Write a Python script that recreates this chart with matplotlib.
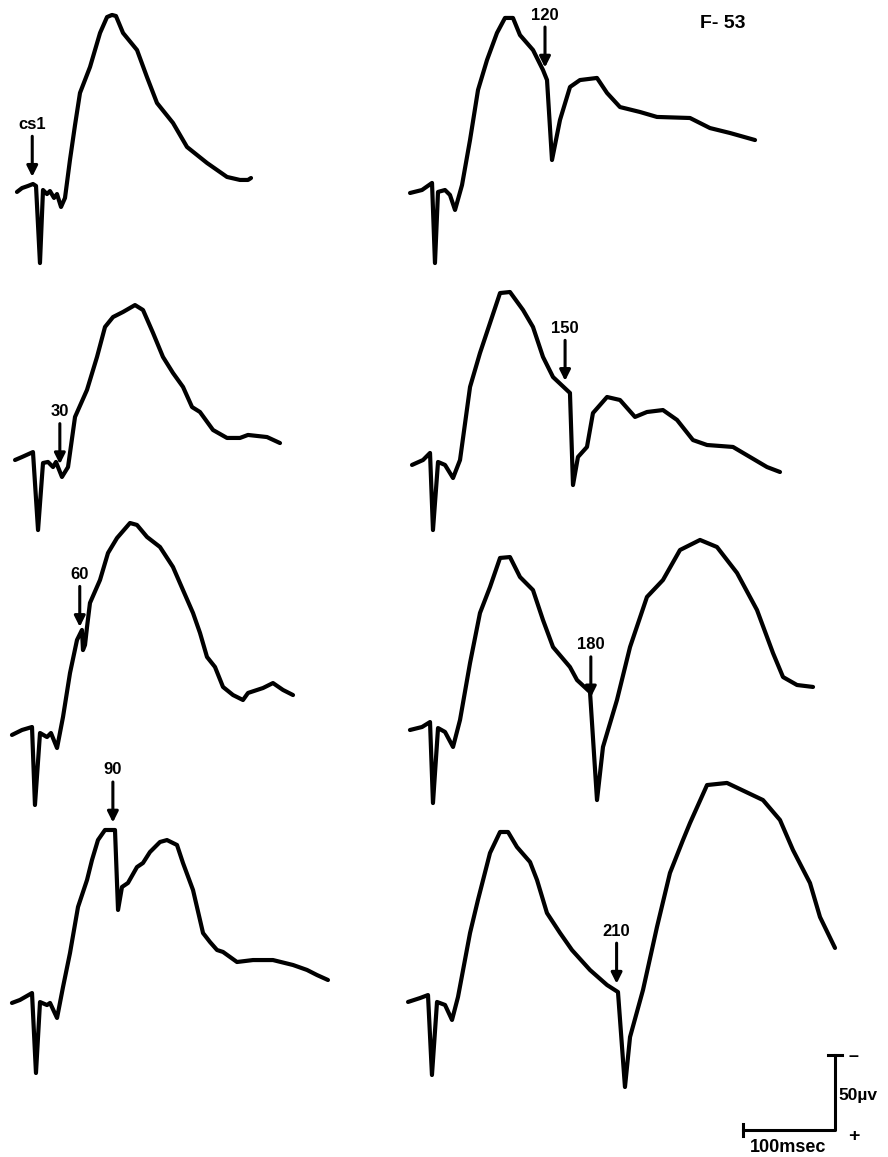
import numpy as np
import matplotlib
matplotlib.use('Agg')
import matplotlib.pyplot as plt

# each trace: time in msec from cs1, amplitude in microvolts (negative is up)
t1 = [-19.6, -14.1, -7.6, -2.2, 1.1, 5.4, 8.7, 13, 16.3, 20.7, 23.9, 28.3, 32.6, 38, 43.5, 48.9, 59.8,
      70.7, 78.3, 83.7, 88, 95.7, 110.9, 121.7, 132.6, 150, 165.2, 187, 208.7, 222.8, 231.5, 234.8]
v1 = [3.3, 0.7, -0.7, -2, -0.7, 50.7, 2, 4.7, 2.7, 7.3, 4.7, 13.3, 7.3, -18, -41.3, -62.7, -80,
      -102.7, -113.3, -114.7, -114, -102.7, -91.3, -73.3, -56, -42.7, -26.7, -16, -6.7, -4.7, -4.7, -6]

t2 = [-21.7, -14.1, -2.2, 3.3, 8.7, 14.1, 19.6, 22.8, 29.3, 35.9, 43.5, 56.5, 67.4, 76.1, 84.8, 95.7,
      108.7, 117.4, 128.3, 139.1, 150, 160.9, 170.7, 179.3, 193.5, 208.7, 222.8, 231.5, 252.2, 266.3]
v2 = [2, 0, -3.3, 48.7, 4, 3.3, 6.7, 3.3, 13.3, 6.7, -26.7, -44.7, -66.7, -86.7, -93.3, -96.7,
      -101.3, -98, -82.7, -66.7, -56, -46.7, -33.3, -30, -18, -12.7, -12.7, -14.7, -13.3, -9.3]

t3 = [-20.7, -9.8, 1.1, 4.3, 9.8, 17.4, 21.7, 28.3, 34.8, 42.4, 50, 55.4, 56.5, 58.7, 60.9, 64.1, 75,
      83.7, 93.5, 107.6, 115.2, 126.1, 140.2, 154.3, 165.2, 176.1, 183.7, 191.3, 200, 208.7, 219.6,
      230.4, 235.9, 252.2, 263, 273.9, 284.8]
v3 = [3.3, 0, -2, 50, 2, 4.7, 2, 12, -8.7, -38, -60, -66.7, -53.3, -56.7, -68.7, -84.7, -100,
      -118, -128, -138, -136.7, -128.7, -122, -108.7, -93.3, -78, -64.7, -48.7, -42, -28.7, -23.3,
      -20, -24.7, -28, -31.3, -26.7, -23.3]

t4 = [-20.7, -12, 1.1, 5.4, 9.8, 17.4, 20.7, 28.3, 34.8, 42.4, 51.1, 60.9, 66.3, 72.8, 80.4, 91.3,
      94.6, 98.9, 105.4, 115.2, 121.7, 129.3, 140.2, 147.8, 158.7, 165.2, 176.1, 187, 194.6, 202.2,
      208.7, 223.9, 241.3, 263, 284.8, 300, 310.9, 322.8]
v4 = [5.3, 3.3, -1.3, 52, 4.7, 6.7, 5.3, 15.3, -5.3, -28, -58.7, -76.7, -90, -103.3, -110, -110,
      -56.7, -72, -74.7, -85.3, -88, -95.3, -102, -103.3, -100, -88, -70, -41.3, -35.3, -30,
      -28.7, -22, -23.3, -23.3, -20, -16.7, -13.3, -10]

t5 = [-21.7, -8.7, 2.2, 5.4, 8.7, 16.3, 21.7, 27.2, 34.8, 43.5, 52.2, 62, 72.8, 81.5, 90.2, 97.8, 112,
      122.8, 127.2, 132.6, 141.3, 152.2, 163, 181.5, 192.4, 206.5, 228.3, 246.7, 282.6, 304.3, 326.1,
      353.3]
v5 = [4, 2, -2.7, 50.7, 3.3, 2, 5.3, 15.3, -1.3, -31.3, -64.7, -84.7, -102.7, -112.7, -112.7, -101.3,
      -91.3, -78, -71.3, -18, -44.7, -66.7, -71.3, -72.7, -62.7, -53.3, -50, -46.7, -46, -39.3, -36,
      -31.3]

t6 = [-17.4, -5.4, 2.2, 5.4, 10.9, 18.5, 27.2, 34.8, 45.7, 56.5, 67.4, 78.3, 89.1, 103.3, 114.1, 125,
      135.9, 154.3, 157.6, 163, 172.8, 179.3, 194.6, 208.7, 225, 238, 255.4, 270.7, 288, 303.3,
      331.5, 350, 368.5, 382.6]
v6 = [3.3, 0, -4.7, 46.7, 1.3, 3.3, 12, 0, -48.7, -71.3, -91.3, -111.3, -112, -100, -88.7, -68.7,
      -55.3, -44.7, 16.7, -2, -8.7, -31.3, -42, -40, -28.7, -32, -33.3, -26.7, -13.3, -10,
      -8.7, -2, 4.7, 8]

t7 = [-19.6, -6.5, 2.2, 5.4, 10.9, 18.5, 27.2, 34.8, 45.7, 56.5, 67.4, 78.3, 89.1, 100, 114.1, 125,
      135.9, 154.3, 162, 176.1, 183.7, 190.2, 205.4, 219.6, 238, 255.4, 273.9, 295.7, 314.1, 335.9,
      357.6, 375, 385.9, 401.1, 418.5]
v7 = [2, 0, -3.3, 50.7, 0.7, 3.3, 13.3, -4.7, -42.7, -76, -93.3, -112.7, -113.3, -100, -91.3, -71.3,
      -53.3, -40, -31.3, -23.3, 48.7, 13.3, -18, -53.3, -86.7, -98, -118, -124.7, -120, -102.7,
      -78, -49.3, -33.3, -28, -26.7]

t8 = [-21.7, -8.7, 0, 4.3, 9.8, 18.5, 26.1, 32.6, 45.7, 54.3, 67.4, 78.3, 87, 96.7, 110.9, 118.5,
      129.3, 143.5, 156.5, 176.1, 194.6, 206.5, 214.1, 219.6, 233.7, 248.9, 263, 277.2, 284.8, 303.3,
      325, 364.1, 382.6, 396.7, 415.2, 426.1, 442.4]
v8 = [1.3, -1.3, -3.3, 50, 1.3, 3.3, 13.3, -2, -44.7, -66.7, -98, -112, -112, -102, -92, -80,
      -58, -44.7, -33.3, -20, -10, -5.3, 58, 24.7, -6.7, -48.7, -84.7, -106.7, -118, -143.3,
      -144.7, -133.3, -120, -100, -78, -55.3, -34.7]

times = [t1, t2, t3, t4, t5, t6, t7, t8]
volts = [v1, v2, v3, v4, v5, v6, v7, v8]

arrow_labels = ['cs1', '30', '60', '90', '120', '150', '180', '210']
arrow_times = [-3, 27, 53, 89, 125, 149, 177, 205]

scale_ms = 100
scale_uv = 50

# page layout, in pixels
W, H = 888, 1157
PX_MS = 0.92
PX_UV = 1.5
origins = [(35, 187), (35, 457), (31, 730), (31, 995),
           (430, 187), (428, 460), (428, 727), (428, 1000)]

font = 'Liberation Sans'


def to_data(px, py):
    return px / PX_MS, py / PX_UV


def draw_trace(ax, t, v, origin):
    x0, y0 = to_data(*origin)
    ax.plot(np.array(t) + x0, np.array(v) + y0, color='black', lw=3.0,
            solid_joinstyle='round', solid_capstyle='round')


def draw_arrow(ax, t, v, origin, label, when):
    x0, y0 = to_data(*origin)
    tip = np.interp(when, t, v) + y0 - 5
    tail = tip - 27
    ax.annotate('', xy=(x0 + when, tip), xytext=(x0 + when, tail),
                arrowprops=dict(arrowstyle='-|>', color='black', lw=2.2,
                                mutation_scale=16, shrinkA=0, shrinkB=0))
    ax.text(x0 + when, tail - 5, label, ha='center', va='baseline',
            fontsize=12, fontweight='bold', family=font)


def draw_scale(ax):
    x1, y1 = to_data(835, 1130)
    ax.plot([x1 - scale_ms, x1, x1], [y1, y1, y1 - scale_uv], color='black', lw=2.2)
    ax.plot([x1 - scale_ms, x1 - scale_ms], [y1 - 4, y1 + 4], color='black', lw=2.2)
    ax.plot([x1 - 8, x1 + 8], [y1 - scale_uv, y1 - scale_uv], color='black', lw=2.2)
    ax.text(x1 + 20, y1 - scale_uv + 1, '\u2013', ha='center', va='center', fontsize=13,
            fontweight='bold', family=font)
    ax.text(x1 + 20, y1 + 4, '+', ha='center', va='center', fontsize=14,
            fontweight='bold', family=font)
    ax.text(x1 + 4, y1 - scale_uv / 2 + 2, '%d\u00b5v' % scale_uv, ha='left', va='center',
            fontsize=12.5, fontweight='bold', family=font)
    ax.text(x1 - scale_ms / 2 - 1, y1 + 6, '%dmsec' % scale_ms, ha='center', va='top',
            fontsize=13, fontweight='bold', family=font)


def main():
    fig = plt.figure(figsize=(W / 100, H / 100), dpi=100)
    ax = fig.add_axes([0, 0, 1, 1])
    ax.set_xlim(0, W / PX_MS)
    ax.set_ylim(H / PX_UV, 0)
    ax.axis('off')

    for i in range(len(times)):
        draw_trace(ax, times[i], volts[i], origins[i])
        draw_arrow(ax, times[i], volts[i], origins[i], arrow_labels[i], arrow_times[i])

    fx, fy = to_data(723, 23)
    ax.text(fx, fy, 'F- 53', ha='center', va='center', fontsize=14,
            fontweight='bold', family=font)
    draw_scale(ax)

    fig.savefig('out.png', dpi=100, facecolor='white')


main()
